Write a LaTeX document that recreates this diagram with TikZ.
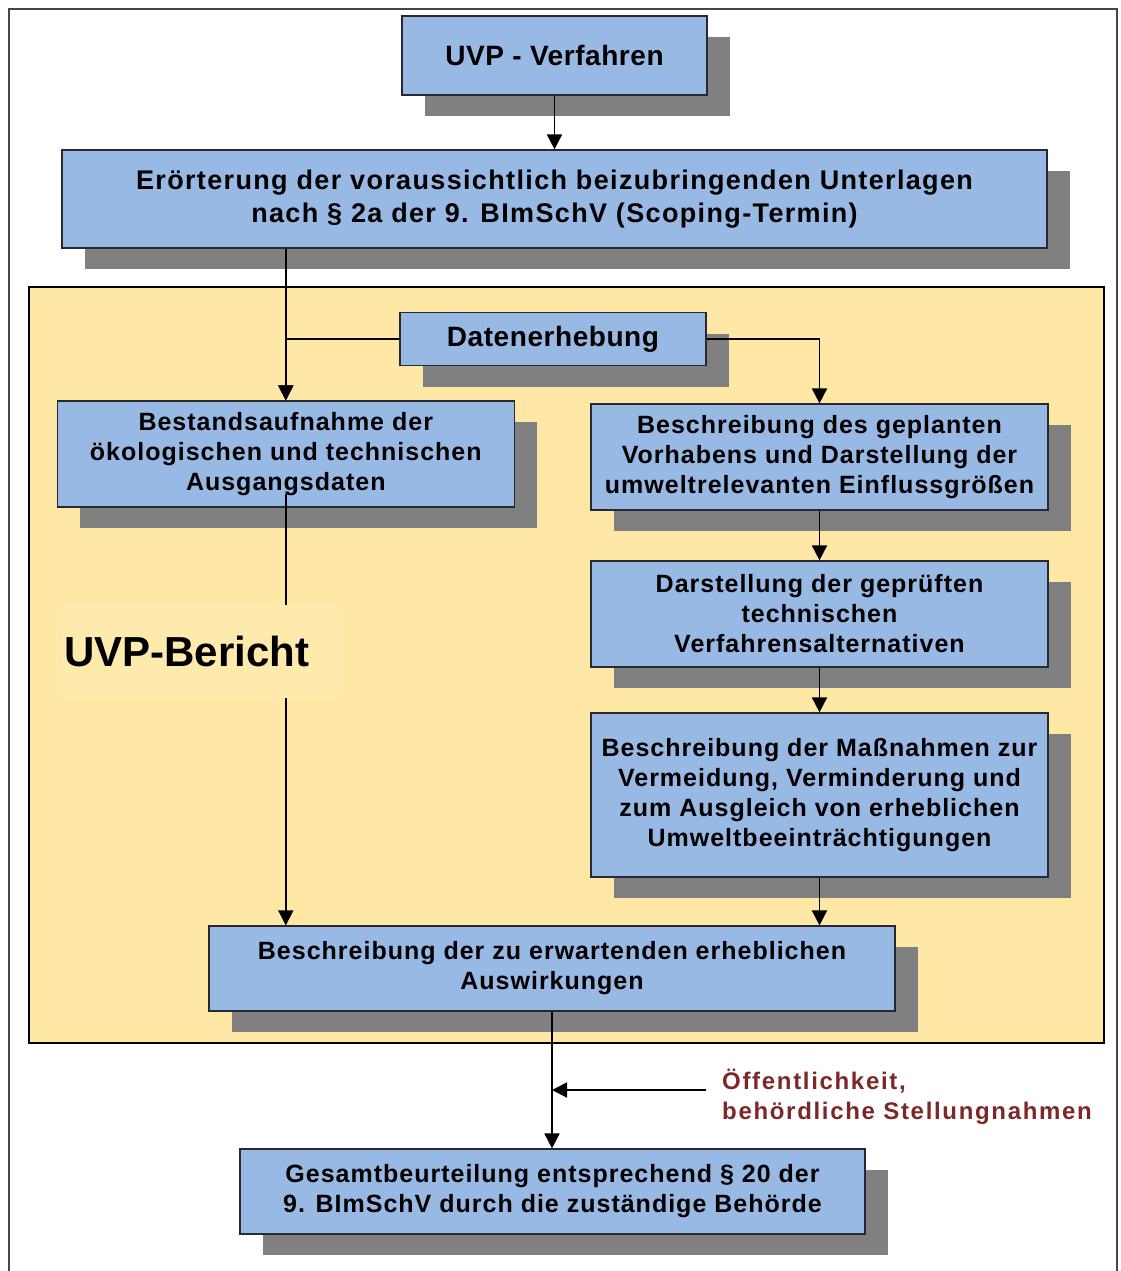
\documentclass[tikz,border=0pt]{standalone}
\usepackage{fontspec}
\setmainfont{Liberation Sans}
\newfontfamily\fontA{Liberation Sans}[LetterSpace=4]
\newfontfamily\fontD{Liberation Sans}[LetterSpace=5]
\newfontfamily\fontB{Liberation Sans}[LetterSpace=2]
\newfontfamily\fontC{Liberation Sans}[LetterSpace=7]
\usetikzlibrary{arrows.meta,shadows}
\definecolor{boxblue}{RGB}{152,185,228}
\definecolor{boxborder}{RGB}{40,40,50}
\definecolor{shadowgray}{RGB}{128,128,128}
\definecolor{yellowbg}{RGB}{255,231,165}
\definecolor{labelbg}{RGB}{255,234,174}
\definecolor{redtext}{RGB}{125,40,40}
\definecolor{framegray}{RGB}{70,70,70}
\begin{document}
\begin{tikzpicture}[x=1pt,y=-1pt,
  box/.style={draw=boxborder, line width=1.2pt, fill=boxblue, inner sep=0pt, align=center,
    drop shadow={shadow xshift=23pt, shadow yshift=-21pt, fill=shadowgray, opacity=1}},
  boxtext/.style={font=\fontA\bfseries\fontsize{25}{30}\selectfont},
  conn/.style={line width=1.8pt, -{Triangle[length=15pt,width=15pt]}}]
\useasboundingbox (0,0) rectangle (1120,1271);
\fill[white] (0,0) rectangle (1120,1271);
\draw[framegray, line width=1.5pt] (9,1280) -- (9,9) -- (1117,9) -- (1117,1280);
\filldraw[fill=yellowbg, draw=black, line width=2pt] (29,287) rectangle (1104,1043);

\node[box, minimum width=305pt, minimum height=79pt, font=\fontB\bfseries\fontsize{28}{33}\selectfont] (uvp) at (554.5,55.5) {UVP - Verfahren};
\node[box, minimum width=985pt, minimum height=98pt, font=\fontD\bfseries\fontsize{27}{33}\selectfont] (eroert) at (554.5,199) {Erörterung der voraussichtlich beizubringenden Unterlagen\\nach § 2a der 9. BImSchV (Scoping-Termin)};
\node[box, minimum width=306pt, minimum height=53pt, font=\fontB\bfseries\fontsize{28}{33}\selectfont] (daten) at (553,339) {Datenerhebung};
\node[box, boxtext, minimum width=457pt, minimum height=106pt] (bestand) at (285.8,454) {Bestandsaufnahme der\\ökologischen und technischen\\Ausgangsdaten};
\node[box, boxtext, minimum width=457pt, minimum height=106pt] (beschr) at (819.5,457) {Beschreibung des geplanten\\Vorhabens und Darstellung der\\umweltrelevanten Einflussgrößen};
\node[box, boxtext, minimum width=457pt, minimum height=106pt] (darst) at (819.5,614) {Darstellung der geprüften\\technischen\\Verfahrensalternativen};
\node[box, boxtext, minimum width=457pt, minimum height=164pt] (mass) at (819.5,795) {Beschreibung der Maßnahmen zur\\Vermeidung, Verminderung und\\zum Ausgleich von erheblichen\\Umweltbeeinträchtigungen};
\node[box, boxtext, minimum width=686pt, minimum height=85pt] (auswirk) at (552,968.5) {Beschreibung der zu erwartenden erheblichen\\Auswirkungen};
\node[box, boxtext, minimum width=625pt, minimum height=85pt] (gesamt) at (552.5,1191.5) {Gesamtbeurteilung entsprechend § 20 der\\9. BImSchV durch die zuständige Behörde};

\draw[conn] (uvp.south) -- (uvp.south |- eroert.north);
\draw[conn] (eroert.south -| bestand.north) -- (bestand.north);
\draw[conn] (daten.west) -| (bestand.north);
\draw[conn] (daten.east) -| (beschr.north);
\draw[conn] (beschr.south) -- (darst.north);
\draw[conn] (darst.south) -- (mass.north);
\draw[conn] (mass.south) -- (mass.south |- auswirk.north);
\draw[conn] ([yshift=14pt]bestand.south) -- (auswirk.north -| bestand.south);
\draw[conn] (auswirk.south) -- (auswirk.south |- gesamt.north);
\coordinate (oeffstart) at (706,1090);
\draw[conn] (oeffstart) -- (oeffstart -| auswirk.south);

\node[anchor=west, align=left, text=redtext, inner sep=0pt, font=\fontC\bfseries\fontsize{24}{30}\selectfont] (oeff) at (722,1097) {Öffentlichkeit,\\behördliche Stellungnahmen};

\node[fill=labelbg, minimum width=279pt, minimum height=93pt, text width=273pt, inner xsep=3pt, inner ysep=0pt, align=left, font=\bfseries\fontsize{42}{48}\selectfont] (bericht) at (200.5,651.5) {UVP-Bericht};
\end{tikzpicture}
\end{document}
